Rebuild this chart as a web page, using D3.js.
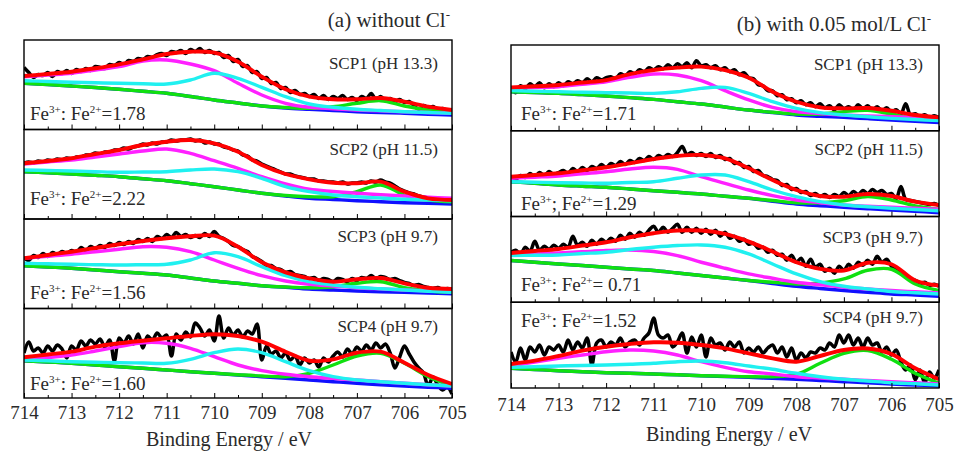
<!DOCTYPE html>
<html>
<head>
<meta charset="utf-8">
<script src="https://cdn.jsdelivr.net/npm/d3@7"></script>
<style>
  body { margin: 0; background: #fff; }
</style>
</head>
<body>
<svg id="chart" width="956" height="452" font-family="Liberation Serif"></svg>
<script>
var FONT = "Liberation Serif";

// energy grid of the fitted curves (eV); raw spectra are sampled every 0.1 eV from 714 to 705
var fitE = [714, 713.5, 713, 712.5, 712, 711.5, 711, 710.5, 710, 709.5, 709, 708.5, 708, 707.5, 707, 706.5, 706, 705.5, 705];
var rawStart = 714, rawStep = 0.1;
var tickLabels = [714, 713, 712, 711, 710, 709, 708, 707, 706, 705];

// (a) without Cl-  -- intensities in a.u.
var rawA1 = [62,57,52,55,54,57,53,58,56,59, 56,60,58,61,59,63,62,61,65,64, 67,65,69,68,71,70,73,72,75,76,
  74,78,77,79,76,80,78,81,77,79, 76,77,72,74,68,70,63,64,57,58, 51,52,46,47,41,42,37,39,35,36,
  33,35,31,34,30,33,31,34,30,32, 29,33,31,36,30,33,29,31,28,30, 27,28,24,20,24,22,23,20,21,19, 20];
var fitA1 = [53.5,55.5,57.8,61.2,65.2,70.2,75.5,77.8,76.8,67.8,52.8,40.2,32.8,30.2,30.2,31.5,27.8,22.8,19.5];
var magA1 = [52.8,54.5,56.2,59.5,62.8,68.5,69.5,65.5,58.8,46.2,34.5,26.2,22.2,20.8,19.5,18.6,17.8,17,16.2];
var cyaA1 = [48.8,48,47.2,46.7,46.2,45.8,45.5,49.5,56.2,51.2,42.2,32.8,25.5,22.2,20.2,19,17.8,17,16.2];
var grnA1 = [46.2,45,43.5,42,40.2,38.2,36.2,33,29.5,26.5,23.5,22,21.2,22.8,26.2,28.8,23.5,19.5,17.8];
var bgA1  = [46.2,45,43.5,42,40.2,38.2,36.2,33,29.5,26.5,23.5,21.5,20.2,19,17.8,17,16.2,15.3,14.5];

var rawA2 = [56,57,56,58,57,59,58,60,59,61, 60,62,62,64,64,66,65,67,67,69, 69,71,70,72,73,75,74,76,75,77,
  77,79,78,79,79,80,78,79,76,77, 75,75,72,71,69,68,64,63,59,58, 55,53,51,49,47,45,45,43,42,41,
  40,40,38,38,37,37,36,37,35,36, 36,37,36,38,37,39,37,36,33,30, 28,26,25,23,22,21,20,20,19,20, 19];
var fitA2 = [55.7,58,60.7,65,69,74,77.3,79,75.7,67.3,54,45,39.7,36.3,35.7,37.3,27.3,20.7,19];
var magA2 = [55,57,59,62,65,68,70,65.7,58.3,50.7,42.3,35,29.7,27.5,25.7,24.3,23,21.8,20.7];
var cyaA2 = [49,48.5,48,47.3,46.7,47,47.3,49,50,47.3,40.7,32.3,27.3,24,22.3,21,19.7,19,18.3];
var grnA2 = [47.3,46.2,45,43.7,42.3,40.3,38.3,35.3,32.3,29,25.7,23.5,22.3,22.3,27.3,34,24,19,17.3];
var bgA2  = [47.3,46.2,45,43.7,42.3,40.3,38.3,35.3,32.3,29,25.7,23,20.7,19.5,18.3,17.3,16.3,15.7,15];

var rawA3 = [51,48,53,51,55,52,56,54,57,55, 58,56,61,58,62,60,63,61,65,63, 66,64,67,65,69,67,70,67,72,70,
  74,71,76,72,74,71,73,71,75,72, 77,72,70,67,63,62,59,57,52,50, 47,43,43,40,39,36,37,34,33,32,
  30,31,28,30,29,27,30,29,27,30, 28,31,30,33,30,32,31,29,30,28, 26,25,23,24,22,21,20,21,19,20, 19];
var fitA3 = [50.2,53.5,56.8,60.5,64.2,67.5,70.2,72.2,72.8,61.8,46.2,36.2,30.2,26.8,29.2,30.5,25.2,20.8,19.5];
var magA3 = [50.2,52.2,54.2,56.7,59.2,61.8,61.2,56.8,48.5,40.2,32.8,27.5,24.2,22.5,20.8,19.6,18.5,17.6,16.8];
var cyaA3 = [45.2,44.7,44.2,43.8,43.5,43.8,44.2,48.5,55.8,51.8,41.8,32.8,26.8,23.5,21.2,19.8,18.5,17.3,16.2];
var grnA3 = [42.8,41.5,40.2,38.5,36.8,35.2,33.5,30.5,27.5,25.2,22.8,21.5,20.8,21.8,25.2,26.8,20.8,17.5,16.2];
var bgA3  = [42.8,41.5,40.2,38.5,36.8,35.2,33.5,30.5,27.5,25.2,22.8,21.2,19.5,18.5,17.5,16.8,16.2,15.5,14.8];

var rawA4 = [45,56,47,50,45,52,47,53,49,40, 52,48,57,52,58,54,59,51,58,37, 60,55,62,54,64,50,62,58,65,60,
  63,42,64,58,66,61,75,70,62,68, 57,82,60,70,63,68,61,67,64,74, 38,52,44,47,40,45,38,42,33,40,
  35,38,31,40,36,42,46,41,49,44, 51,47,53,48,55,50,54,45,30,41, 52,44,36,30,25,12,21,13,8,11, 4];
var fitA4 = [40.7,43.5,46.3,51.3,54.7,57.3,59.7,62,63.7,62,56.3,46.3,37.3,38.7,45.3,46.3,35.3,23,14];
var magA4 = [38,40.5,43,47,51.3,55.3,54.7,49.7,41.3,33,27.3,23.7,21.3,19.6,18,16.3,14.7,13.3,12];
var cyaA4 = [38,37.2,36.3,35.8,35.3,35,34.7,38.7,45.3,49,45.3,36.3,27.3,21.3,18,16.3,14.7,13.3,12];
var grnA4 = [37.3,36,34.7,33,31.3,29.7,28,26.3,24.7,23.3,22,21.3,24.7,33,42,44.7,34.7,21.3,12];
var bgA4  = [37.3,36,34.7,33,31.3,29.7,28,26.3,24.7,23,21.3,19.7,18,16.3,14.7,13.3,12,10.8,9.7];

// (b) with 0.05 mol/L Cl-
var rawB1 = [44,38,45,42,47,44,48,43,47,44, 48,45,49,47,50,48,52,49,53,51, 53,54,52,57,55,59,57,61,59,63,
  61,64,62,66,63,67,64,68,63,70, 65,66,63,65,61,63,59,61,56,58, 53,52,46,45,40,40,35,36,31,32,
  28,30,26,28,24,27,23,25,21,26, 22,24,21,26,22,25,21,24,20,23, 19,21,17,27,16,17,14,16,13,15, 13];
var fitB1 = [43.4,44.5,45.7,48.2,50.7,56.7,60.7,63.1,64.1,60.7,53,39,29,23.4,22.4,22.7,20,15.7,13.4];
var magB1 = [42.4,43.2,44,46.5,49,53.4,56.7,55.7,50.1,40.1,30.8,23.4,19.1,17.2,15.7,14.9,14.1,13.2,12.4];
var cyaB1 = [40.1,39.5,39,38.5,38.1,37.7,37.4,39,42.4,43.4,37.4,29.1,22.4,18.1,15.7,14,12.4,11.2,10.1];
var grnB1 = [39,38.2,37.4,36.1,34.8,33.1,31.4,29,26.7,23.7,20.7,18.5,16.7,16.7,19.1,20.5,16.7,12.4,10.8];
var bgB1  = [39,38.2,37.4,36.1,34.8,33.1,31.4,29,26.7,23.7,20.7,18.2,15.7,14.5,13.4,12.1,10.8,9.5,8.1];

var rawB2 = [40,37,41,39,43,40,44,41,45,42, 44,46,43,48,45,49,46,50,48,52, 49,53,51,55,52,56,54,58,56,60,
  57,61,59,62,60,64,70,62,64,61, 63,60,63,59,61,57,58,53,54,49, 50,45,46,41,40,37,36,31,32,27,
  28,24,25,21,23,20,22,19,22,20, 24,21,25,22,26,23,27,24,26,22, 23,18,30,17,16,15,14,13,12,13, 11];
var fitB2 = [39.8,41.5,43.2,46.2,49.2,53.2,57.5,60.5,61.5,58.2,48.2,36.5,26.5,20.5,19.8,22.5,20.5,14.8,11.5];
var magB2 = [38.2,39.3,40.5,42.7,44.8,47.5,49.2,47.2,39.8,33.2,26.5,20.8,16.5,13.8,11.5,10.3,9.2,8.2,7.2];
var cyaB2 = [34.8,34.3,33.8,33.5,33.2,34,34.8,38.2,41.5,41.5,34.8,26.5,19.8,14.8,11.5,9.8,8.2,7,5.8];
var grnB2 = [34.8,33.2,31.5,30.3,29.2,27.5,25.8,24.2,22.5,20.3,18.2,16,13.8,13.8,15.8,20,16.5,10.5,7.2];
var bgB2  = [34.8,33.2,31.5,30.3,29.2,27.5,25.8,24.2,22.5,20.3,18.2,15.3,12.5,10.8,9.2,7.8,6.5,5.2,3.8];

var rawB3 = [50,52,48,55,51,61,52,56,53,57, 54,58,55,66,57,60,56,62,58,63, 60,64,61,67,63,69,65,70,67,72,
  76,70,75,70,74,78,70,75,70,74, 69,73,68,72,66,70,64,66,61,63, 58,59,54,55,50,52,47,48,42,47,
  40,44,36,43,35,38,31,34,29,36, 32,38,34,40,37,42,38,46,40,43, 36,33,29,27,23,22,19,20,17,18, 16];
var fitB3 = [49.3,51.3,53.3,56.7,60,65,69,71.7,71.7,68.3,60.7,50.7,40,33.3,31.7,39.5,38,21.7,16.7];
var magB3 = [47.3,48.3,49.3,50.5,51.7,52.3,50.7,46.7,40,34,28.3,24,20,17.5,15,13.3,11.7,10.5,9.3];
var cyaB3 = [46.7,47,47.3,48.7,50,52.7,55,56.7,57.3,55,48.3,38.3,28.3,20.7,16,13.3,10.7,9.5,8.3];
var grnB3 = [41.7,40,38.3,36.7,35,33.3,31.7,29.2,26.7,24.2,21.7,20,18.3,19.3,23.3,32,33,18.3,11.7];
var bgB3  = [41.7,40,38.3,36.7,35,33.3,31.7,29.2,26.7,24.2,21.7,18.8,16,13.8,11.7,10,8.3,7.2,6];

var rawB4 = [36,26,40,28,41,36,43,33,41,38, 43,36,48,38,46,40,50,23,45,48, 41,46,43,50,41,46,48,43,50,55,
  70,53,50,53,41,46,55,35,51,41, 53,31,50,43,45,38,46,41,46,35, 40,36,41,35,40,43,35,41,31,40,
  28,35,30,36,35,40,38,45,41,53, 45,53,43,50,41,50,43,45,36,41, 33,38,26,18,23,8,18,5,16,10, 18];
var fitB4 = [24,27.3,32,37.3,41.3,44,45.7,45.3,43,39.7,34.7,29.7,26.3,32,38,39.5,34,19.7,8.7];
var magB4 = [22,26,29.7,33,36.3,38,37,33,26.3,20.7,16.3,14,11.3,10,8.7,7.5,6.3,5.2,4];
var cyaB4 = [20.7,21.3,22,22.5,23,23.8,24.7,26.3,27,25.3,22,18.7,14.7,11.3,8.7,7,5.3,4.2,3];
var grnB4 = [19.7,18.5,17.3,16.3,15.3,14.7,14,13.2,12.3,11.8,11.3,11.3,13.7,24.7,34.7,37.5,28.7,14.7,4.7];
var bgB4  = [19.7,18.5,17.3,16.3,15.3,14.7,14,13.2,12.3,11.5,10.7,9.7,8.7,7.5,6.3,5.2,4,3,2];

var samples = ["SCP1 (pH 13.3)", "SCP2 (pH 11.5)", "SCP3 (pH 9.7)", "SCP4 (pH 9.7)"];
var ratiosA = ["1.78", "2.22", "1.56", "1.60"];
var ratiosB = ["1.71", "1.29", " 0.71", "1.52"];
var sepB = [":", ";", ":", ":"];

var svg = d3.select("#chart");
var W = 428;

var columns = [
  { x: 24, h: 89.5, tops: [40, 129.5, 219, 308.5], ratios: ratiosA, sep: [":", ":", ":", ":"],
    raw: [rawA1, rawA2, rawA3, rawA4], fit: [fitA1, fitA2, fitA3, fitA4], mag: [magA1, magA2, magA3, magA4],
    cya: [cyaA1, cyaA2, cyaA3, cyaA4], grn: [grnA1, grnA2, grnA3, grnA4], bg: [bgA1, bgA2, bgA3, bgA4],
    feX: 6, feY: [80, 75, 79.5, 81.5], scpY: [29, 25, 23, 23], scpX: 414, tickPad: 8, titleY: 446,
    titleX: 229 },
  { x: 511, h: 85.75, tops: [45, 130.75, 216.5, 302.25], ratios: ratiosB, sep: sepB,
    raw: [rawB1, rawB2, rawB3, rawB4], fit: [fitB1, fitB2, fitB3, fitB4], mag: [magB1, magB2, magB3, magB4],
    cya: [cyaB1, cyaB2, cyaB3, cyaB4], grn: [grnB1, grnB2, grnB3, grnB4], bg: [bgB1, bgB2, bgB3, bgB4],
    feX: 10, feY: [75, 79, 74, 24.5], scpY: [25, 24, 26, 21], scpX: 412, tickPad: 10, titleY: 441,
    titleX: 729 }
];

var x = d3.scaleLinear().domain([714, 705]).range([0, W]);

function label(sel, size) {
  return sel.attr("font-family", FONT).style("font-family", FONT)
    .style("font-size", size + "px").attr("fill", "#2a2a2a");
}

columns.forEach(function(col, ci) {
  var y = d3.scaleLinear().domain([0, col.h]).range([col.h, 0]);

  var fitLine = d3.line()
      .x(function(d, i) { return x(fitE[i]); })
      .y(function(d) { return y(d); })
      .curve(d3.curveCatmullRom.alpha(0.5));
  var rawLine = d3.line()
      .x(function(d, i) { return x(rawStart - i * rawStep); })
      .y(function(d) { return y(d); })
      .curve(d3.curveCatmullRom.alpha(0.5));

  col.tops.forEach(function(top, pi) {
    var g = svg.append("g").attr("transform", "translate(" + col.x + "," + top + ")");
    var clipId = "clip" + ci + pi;
    g.append("clipPath").attr("id", clipId)
      .append("rect").attr("width", W).attr("height", col.h);

    var plot = g.append("g").attr("clip-path", "url(#" + clipId + ")");

    // measured spectrum
    plot.append("path").attr("d", rawLine(col.raw[pi]))
      .attr("fill", "none").attr("stroke", "#000").attr("stroke-width", 3.5)
      .attr("stroke-linejoin", "round");

    // fitted components, red envelope on top
    var comps = [[col.bg[pi], "#1010ff", 3.4], [col.grn[pi], "#10e010", 3.4], [col.mag[pi], "#ff20ff", 3.4],
                 [col.cya[pi], "#20f0f0", 3.4], [col.fit[pi], "#ff0000", 3.9]];
    comps.forEach(function(c) {
      plot.append("path").attr("d", fitLine(c[0]))
        .attr("fill", "none").attr("stroke", c[1]).attr("stroke-width", c[2]);
    });

    // ticks (inward)
    var isBottom = pi === 3;
    var minor = g.append("g").attr("transform", "translate(0," + col.h + ")")
      .call(d3.axisBottom(x).tickValues(d3.range(705.5, 714, 1)).tickSizeInner(-3).tickSizeOuter(0).tickFormat(""));
    minor.select(".domain").remove();
    var major = g.append("g").attr("transform", "translate(0," + col.h + ")")
      .call(d3.axisBottom(x).tickValues(tickLabels).tickSizeInner(-5).tickSizeOuter(0)
        .tickPadding(col.tickPad).tickFormat(isBottom ? d3.format("d") : ""));
    major.select(".domain").remove();
    major.attr("font-family", FONT);
    label(major.selectAll("text"), 19);
    g.selectAll(".tick line").attr("stroke", "#000");

    // frame
    g.append("rect").attr("width", W).attr("height", col.h)
      .attr("fill", "none").attr("stroke", "#000").attr("stroke-width", 1.4);

    // sample label
    label(g.append("text"), 17).attr("x", col.scpX).attr("y", col.scpY[pi])
      .attr("text-anchor", "end").text(samples[pi]);

    // Fe3+ : Fe2+ ratio
    var t = label(g.append("text"), 19).attr("x", col.feX).attr("y", col.feY[pi]);
    t.append("tspan").text("Fe");
    t.append("tspan").attr("dy", -7).style("font-size", "11px").text("3+");
    t.append("tspan").attr("dy", 7).text(col.sep[pi] + " Fe");
    t.append("tspan").attr("dy", -7).style("font-size", "11px").text("2+");
    t.append("tspan").attr("dy", 7).style("white-space", "pre").text("=" + col.ratios[pi]);
  });

  label(svg.append("text"), 21).attr("x", col.titleX).attr("y", col.titleY)
    .attr("text-anchor", "middle").attr("textLength", 166).attr("lengthAdjust", "spacingAndGlyphs")
    .text("Binding Energy / eV");
});

// column titles
function colTitle(xr, yb, text) {
  var t = label(svg.append("text"), 21).attr("x", xr).attr("y", yb).attr("text-anchor", "end");
  t.append("tspan").text(text);
  t.append("tspan").attr("dy", -8).style("font-size", "13px").text("-");
}
colTitle(450, 27, "(a) without Cl");
colTitle(931, 31, "(b) with 0.05 mol/L Cl");
</script>
</body>
</html>
